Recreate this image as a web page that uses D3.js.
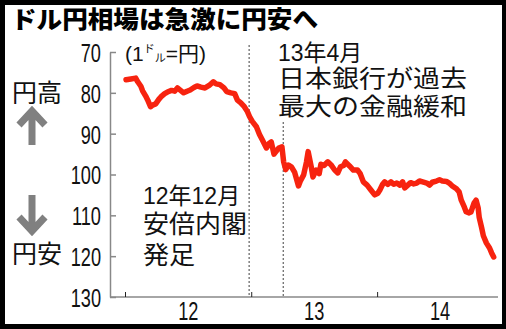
<!DOCTYPE html>
<html>
<head>
<meta charset="utf-8">
<script src="https://cdn.jsdelivr.net/npm/d3@7"></script>
<style>
  body { margin: 0; background: #000; }
  svg { display: block; }
</style>
</head>
<body>
<svg id="chart" width="506" height="329"></svg>
<script>
// 1ドル=円, weekly-ish readings from 2012 to Dec 2014
var dates = [
  "2012-01-04","2012-01-18","2012-02-01","2012-02-07","2012-02-16","2012-02-21","2012-03-01","2012-03-07",
  "2012-03-15","2012-03-21","2012-03-30","2012-04-08","2012-04-14","2012-04-25","2012-05-03","2012-05-15",
  "2012-05-24","2012-06-01","2012-06-10","2012-06-19","2012-06-29","2012-07-08","2012-07-19","2012-07-28",
  "2012-08-08","2012-08-20","2012-09-01","2012-09-13","2012-09-21","2012-10-02","2012-10-14","2012-10-22",
  "2012-11-03","2012-11-14","2012-11-22","2012-12-01","2012-12-12","2012-12-21","2012-12-27","2013-01-04",
  "2013-01-16","2013-01-25","2013-02-02","2013-02-14","2013-02-22","2013-02-28","2013-03-08","2013-03-17",
  "2013-03-22","2013-03-31","2013-04-05","2013-04-11","2013-04-19","2013-04-28","2013-05-07","2013-05-18",
  "2013-05-24","2013-06-02","2013-06-10","2013-06-15","2013-06-24","2013-06-29","2013-07-08","2013-07-17",
  "2013-07-22","2013-07-31","2013-08-11","2013-08-20","2013-08-31","2013-09-09","2013-09-17","2013-09-26",
  "2013-10-01","2013-10-13","2013-10-24","2013-11-05","2013-11-13","2013-11-22","2013-12-03","2013-12-14",
  "2013-12-25","2014-01-03","2014-01-09","2014-01-17","2014-01-23","2014-02-01","2014-02-10","2014-02-18",
  "2014-02-27","2014-03-08","2014-03-16","2014-03-22","2014-03-31","2014-04-08","2014-04-17","2014-04-26",
  "2014-05-04","2014-05-13","2014-05-25","2014-06-02","2014-06-10","2014-06-22","2014-07-01","2014-07-09",
  "2014-07-21","2014-07-29","2014-08-07","2014-08-19","2014-08-27","2014-09-02","2014-09-11","2014-09-16",
  "2014-09-25","2014-09-30","2014-10-09","2014-10-15","2014-10-21","2014-10-24","2014-10-31","2014-11-05",
  "2014-11-14","2014-11-23","2014-11-29","2014-12-05"
];
var rates = [
  76.8, 76.6, 76.4, 77.3, 78.4, 79.5, 80.8, 81.8,
  83.4, 83.0, 82.7, 81.6, 81.0, 80.2, 79.8, 79.4,
  79.6, 78.8, 79.4, 80.0, 79.6, 79.3, 78.7, 78.3,
  78.6, 78.8, 78.2, 77.3, 77.8, 78.0, 78.8, 79.7,
  80.0, 80.2, 81.8, 82.4, 83.4, 84.6, 85.8, 87.0,
  88.3, 90.2, 91.5, 93.5, 92.4, 92.0, 95.0, 94.0,
  93.5, 93.2, 96.9, 98.8, 97.7, 98.2, 99.5, 102.8,
  101.5, 100.1, 97.0, 94.4, 98.1, 100.6, 98.9, 99.8,
  97.5, 97.8, 96.9, 97.6, 98.9, 99.6, 98.1, 97.8,
  96.9, 97.9, 98.9, 98.9, 99.8, 101.8, 102.6, 103.8,
  105.0, 104.6, 103.8, 102.4, 101.8, 102.4, 101.8, 102.4,
  102.1, 102.6, 101.8, 103.3, 102.6, 102.0, 102.3, 102.1,
  101.6, 101.8, 102.1, 102.6, 101.9, 101.6, 101.3, 101.6,
  101.7, 102.1, 102.8, 103.5, 104.3, 106.3, 108.0, 109.1,
  109.4, 109.2, 107.0, 106.3, 108.2, 110.5, 113.0, 115.0,
  116.8, 118.0, 119.2, 120.2
];
var yTicks = [70, 80, 90, 100, 110, 120, 130];
var yearStarts = ["2012-01-01", "2013-01-01", "2014-01-01"];
var yearMids = ["2012-07-01", "2013-07-01", "2014-07-01"];
var events = ["2012-12-26", "2013-04-04"];

var parse = d3.timeParse("%Y-%m-%d");
var data = dates.map(function(d, i) { return { date: parse(d), value: rates[i] }; });

var svg = d3.select("#chart");
var numFont = "'Liberation Sans', Arial, sans-serif";
var jpFont = "'Liberation Sans', 'Noto Sans CJK JP', sans-serif";

// frame
svg.append("rect").attr("width", 506).attr("height", 329).attr("fill", "#000");
svg.append("rect").attr("x", 5).attr("y", 5).attr("width", 497).attr("height", 319).attr("fill", "#fff");

var x = d3.scaleTime()
    .domain([parse("2012-01-01"), parse("2015-01-01")])
    .range([125, 503]);
var y = d3.scaleLinear()
    .domain([70, 130])
    .range([52, 297]);

// event lines
svg.selectAll(".event")
  .data(events)
  .enter()
  .append("line")
    .attr("class", "event")
    .attr("x1", function(d) { return x(parse(d)); })
    .attr("x2", function(d) { return x(parse(d)); })
    .attr("y1", function(d, i) { return i == 0 ? 45 : 122; })
    .attr("y2", y(130))
    .attr("stroke", "#777")
    .attr("stroke-width", 1.4)
    .attr("stroke-dasharray", "2,2");

// y axis
var yAxis = svg.append("g")
    .attr("transform", "translate(110,0)")
    .call(d3.axisLeft(y).tickValues(yTicks).tickSize(-6).tickSizeOuter(0));
yAxis.select(".domain").attr("stroke", "#888").attr("stroke-width", 1.5);
yAxis.selectAll(".tick line").attr("stroke", "#888").attr("stroke-width", 1.5);
yAxis.selectAll(".tick text")
    .attr("font-family", numFont)
    .attr("font-size", 26)
    .attr("fill", "#111")
    .attr("transform", "scale(0.7,1)")
    .attr("x", -9 / 0.7)
    .attr("dy", "0.36em");

// x axis line
svg.append("line")
    .attr("x1", 110).attr("x2", 498)
    .attr("y1", y(130)).attr("y2", y(130))
    .attr("stroke", "#888").attr("stroke-width", 1.5);

// year ticks
var xAxis = svg.append("g")
    .attr("transform", "translate(0," + y(130) + ")")
    .call(d3.axisBottom(x).tickValues(yearStarts.map(parse)).tickSize(-5).tickFormat(""));
xAxis.select(".domain").remove();
xAxis.selectAll(".tick line").attr("stroke", "#222").attr("stroke-width", 1);

// year labels
var xLabels = svg.append("g")
    .attr("transform", "translate(0," + y(130) + ")")
    .call(d3.axisBottom(x).tickValues(yearMids.map(parse)).tickSize(0).tickPadding(5)
      .tickFormat(d3.timeFormat("%y")));
xLabels.select(".domain").remove();
xLabels.selectAll(".tick text")
    .attr("font-family", numFont)
    .attr("font-size", 26)
    .attr("fill", "#111")
    .attr("transform", "scale(0.7,1)")
    .attr("x", 0);

// rate line
var line = d3.line()
    .x(function(d) { return x(d.date); })
    .y(function(d) { return y(d.value); });
svg.append("path")
    .datum(data)
    .attr("d", line)
    .attr("fill", "none")
    .attr("stroke", "#f7230f")
    .attr("stroke-width", 5.5)
    .attr("stroke-linejoin", "round")
    .attr("stroke-linecap", "round");

// title
svg.append("text")
    .attr("x", 11).attr("y", 28)
    .attr("font-family", "'Noto Sans CJK JP', sans-serif")
    .attr("font-weight", 900)
    .attr("font-size", 24)
    .attr("textLength", 307)
    .attr("lengthAdjust", "spacingAndGlyphs")
    .attr("fill", "#000")
    .text("ドル円相場は急激に円安へ");

// unit
var unit = svg.append("text")
    .attr("x", 125).attr("y", 61)
    .attr("font-family", jpFont)
    .attr("font-size", 21)
    .attr("fill", "#111");
unit.append("tspan").text("(1");
unit.append("tspan").attr("font-size", 11).attr("dy", -8).text("ド");
unit.append("tspan").attr("font-size", 11).attr("dy", 9).text("ル");
unit.append("tspan").attr("dy", -1).text("=円)");

// annotations
function note(txt, xx, yy, size, len) {
  var t = svg.append("text")
      .attr("x", xx).attr("y", yy)
      .attr("font-family", jpFont)
      .attr("font-size", size)
      .attr("fill", "#111")
      .text(txt);
  if (len) t.attr("textLength", len).attr("lengthAdjust", "spacingAndGlyphs");
}
note("13年4月", 278, 61, 23);
note("日本銀行が過去", 278, 87, 24, 189);
note("最大の金融緩和", 278, 115, 24, 189);
note("12年12月", 143, 204, 23);
note("安倍内閣", 143, 233, 25, 104);
note("発足", 143, 264, 25, 52);
note("円高", 12, 102, 25, 50);
note("円安", 12, 263, 25, 50);

// arrows
var arrows = [
  { shaft: [145, 111], head: [[19, 125], [32, 111], [45, 125]] },
  { shaft: [195, 231], head: [[19, 217], [32, 231], [45, 217]] }
];
svg.selectAll(".arrow")
  .data(arrows)
  .enter()
  .append("path")
    .attr("class", "arrow")
    .attr("d", function(d) {
      return "M32," + d.shaft[0] + "V" + d.shaft[1] + "M" + d.head.map(function(p) { return p.join(","); }).join("L");
    })
    .attr("fill", "none")
    .attr("stroke", "#808080")
    .attr("stroke-width", 7);
</script>
</body>
</html>
